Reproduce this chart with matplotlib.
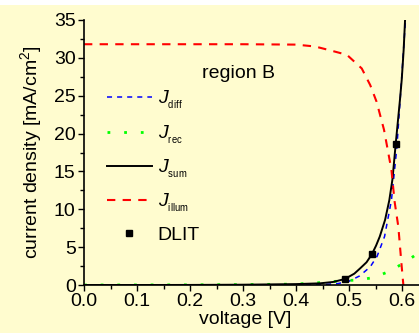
import matplotlib
matplotlib.use("Agg")
import matplotlib.pyplot as plt
from matplotlib.patches import Rectangle
from matplotlib.ticker import MultipleLocator, FormatStrFormatter

plt.rcParams['font.family'] = 'Liberation Sans'
plt.rcParams['mathtext.fontset'] = 'custom'
plt.rcParams['mathtext.rm'] = 'Liberation Sans'
plt.rcParams['mathtext.it'] = 'Liberation Sans:italic'

# current densities in mA/cm^2 vs voltage in V
v_sum = [0.0, 0.1, 0.2, 0.3, 0.4, 0.445, 0.47, 0.492, 0.51, 0.521, 0.533, 0.543,
         0.551, 0.558, 0.568, 0.576, 0.582, 0.588, 0.592, 0.596, 0.5994, 0.603, 0.6057]
j_sum = [0.0, 0.0, 0.01, 0.04, 0.12, 0.22, 0.4, 0.79, 1.5, 2.2, 3.0, 4.05,
         5.2, 6.4, 8.6, 11.2, 14.0, 18.6, 21.5, 24.4, 27.1, 31.0, 35.0]

v_diff = [0.0, 0.2, 0.4, 0.45, 0.48, 0.5, 0.52, 0.54, 0.553, 0.567, 0.58, 0.59, 0.598, 0.6065]
j_diff = [0.0, 0.0, 0.01, 0.05, 0.2, 0.5, 1.2, 2.4, 3.8, 6.4, 11.2, 18.0, 26.0, 35.0]

v_rec = [0.0, 0.2, 0.3, 0.4, 0.455, 0.488, 0.518, 0.548, 0.579, 0.61, 0.632]
j_rec = [0.0, 0.02, 0.05, 0.12, 0.35, 0.57, 0.66, 1.0, 1.9, 3.2, 4.3]

v_illum = [0.0, 0.3, 0.4, 0.436, 0.464, 0.496, 0.524, 0.54, 0.552, 0.566, 0.58,
           0.586, 0.593, 0.5994, 0.6025]
j_illum = [31.8, 31.8, 31.75, 31.5, 31.0, 30.4, 28.6, 26.4, 24.2, 20.5, 15.2,
           11.0, 7.7, 2.4, 0.0]

v_dlit = [0.492, 0.543, 0.588]
j_dlit = [0.79, 4.05, 18.6]

labels = [r'$J_{{}_{\mathrm{diff}}}$', r'$J_{{}_{\mathrm{rec}}}$', r'$J_{{}_{\mathrm{sum}}}$',
          r'$J_{{}_{\mathrm{illum}}}$', 'DLIT']

fig = plt.figure(figsize=(4.19, 3.33), dpi=100, facecolor='#FFFCCF')
fig.add_artist(Rectangle((0, 1 - 5 / 333), 1, 5 / 333, transform=fig.transFigure,
                         facecolor='white', edgecolor='none'))
ax = fig.add_axes([84 / 419, 48 / 333, 335 / 419, 265 / 333])
ax.set_facecolor('none')

ax.plot(v_diff, j_diff, color='#0000FF', lw=1.1, ls=(0, (3.3, 3.3)), label=labels[0])
ax.plot(v_rec, j_rec, color='#00FF00', lw=2.0, ls=(0, (1, 5)), label=labels[1])
ax.plot(v_sum, j_sum, color='black', lw=1.4, label=labels[2])
ax.plot(v_illum, j_illum, color='#FF0000', lw=1.5, ls=(0, (4, 3.5)), label=labels[3])
ax.plot(v_dlit, j_dlit, 's', color='black', ms=5, label=labels[4])

ax.set_xlim(0, 0.632)
ax.set_ylim(0, 35)
ax.xaxis.set_major_locator(MultipleLocator(0.1))
ax.xaxis.set_minor_locator(MultipleLocator(0.05))
ax.xaxis.set_major_formatter(FormatStrFormatter('%.1f'))
ax.yaxis.set_major_locator(MultipleLocator(5))
ax.yaxis.set_minor_locator(MultipleLocator(2.5))

for s in ['top', 'right']:
    ax.spines[s].set_visible(False)
for s in ['left', 'bottom']:
    ax.spines[s].set_linewidth(1.2)
ax.tick_params(which='major', length=4, width=1, labelsize=14, pad=2)
ax.tick_params(which='minor', length=3, width=1)

ax.set_xlabel('voltage [V]', fontsize=14, labelpad=1)
ax.xaxis.set_label_coords(0.482, -0.1, transform=ax.transAxes)
ax.xaxis.label.set_va('top')
ax.set_ylabel('current density [mA/cm$^2$]', fontsize=14, labelpad=7)

ax.text(0.353, 0.8, 'region B', transform=ax.transAxes, fontsize=14, va='center')

ax.legend(loc='upper left', bbox_to_anchor=(0.069, 0.739), frameon=False, fontsize=14,
          handlelength=2.3, handletextpad=0.3, labelspacing=0.63, borderaxespad=0,
          borderpad=0, markerscale=0.9)

fig.savefig('out.png', dpi=100, facecolor=fig.get_facecolor())
